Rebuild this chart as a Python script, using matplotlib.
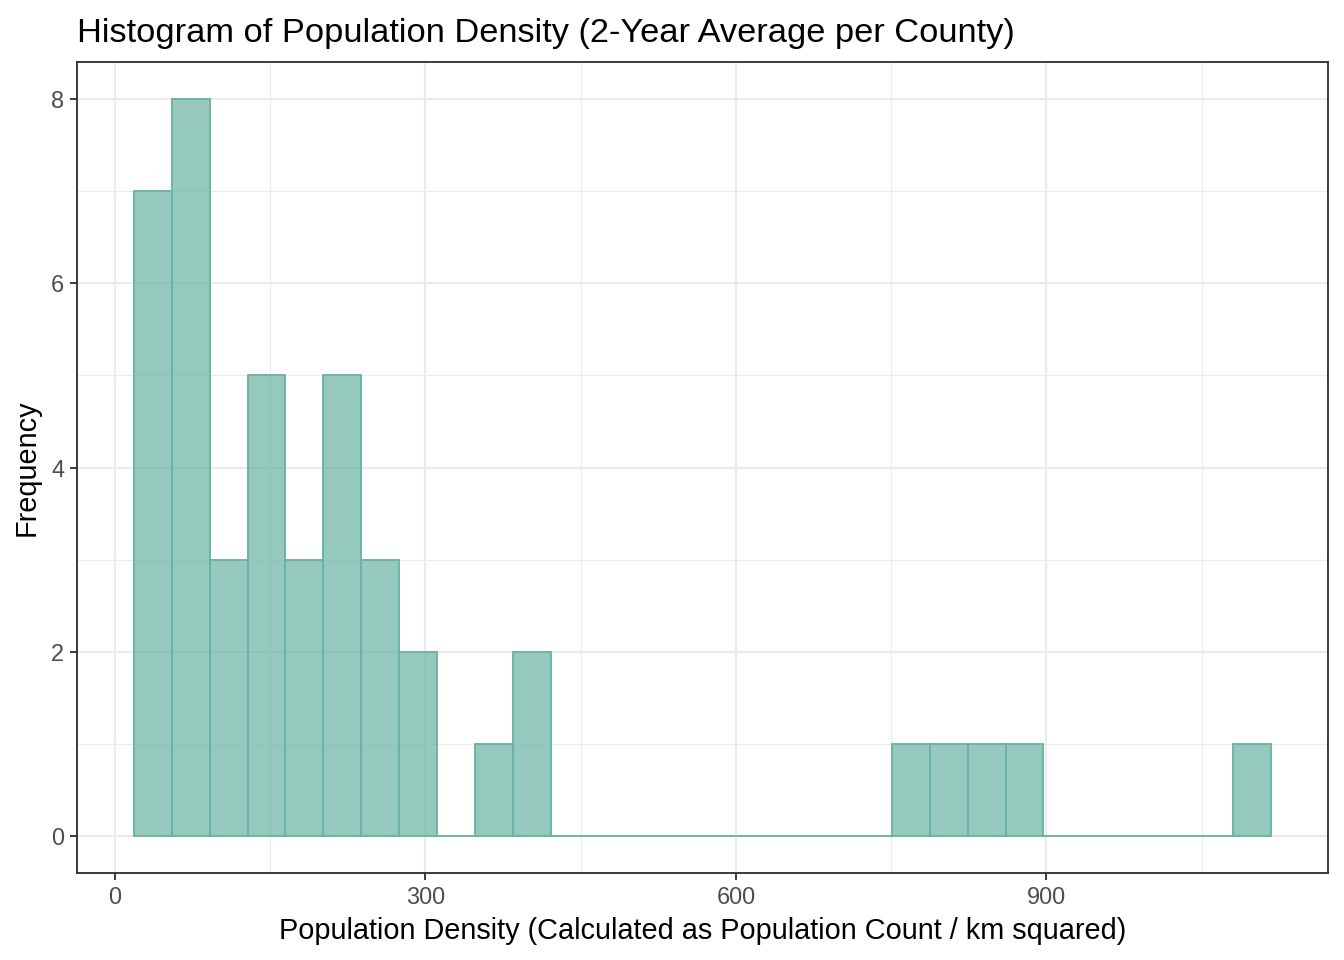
import matplotlib
matplotlib.use("Agg")
from matplotlib import pyplot as plt

# histogramm verisi (30 bin)
bin_start = 18.3
bin_width = 36.62
counts = [7, 8, 3, 5, 3, 5, 3, 2, 0, 1, 2, 0, 0, 0, 0,
          0, 0, 0, 0, 0, 1, 1, 1, 1, 0, 0, 0, 0, 0, 1]
x_ticks = [0, 300, 600, 900]
y_ticks = [0, 2, 4, 6, 8]

plt.rcParams['font.family'] = ['Liberation Sans', 'DejaVu Sans']

fig = plt.figure(figsize=(7, 5), dpi=192)
ax = fig.add_axes([0.0573, 0.0906, 0.9307, 0.8448])

lefts = [bin_start + i * bin_width for i in range(len(counts))]
ax.bar(lefts, counts, width=bin_width, align='edge',
       color='#69b3a2', alpha=0.7, edgecolor='none', zorder=3)
ax.bar(lefts, counts, width=bin_width, align='edge',
       fill=False, edgecolor='#69b3a2', linewidth=0.7, zorder=4)

ax.set_xlim(-36.6, 1172)
ax.set_ylim(-0.4, 8.4)
ax.set_xticks(x_ticks)
ax.set_yticks(y_ticks)
ax.set_xticks([150, 450, 750, 1050], minor=True)
ax.set_yticks([1, 3, 5, 7], minor=True)

ax.grid(True, which='major', color='#EBEBEB', linewidth=0.8, zorder=0)
ax.grid(True, which='minor', color='#EBEBEB', linewidth=0.4, zorder=0)
ax.set_axisbelow(True)

for s in ax.spines.values():
    s.set_color('#333333')
    s.set_linewidth(0.7)

ax.tick_params(which='major', length=2.75, width=0.7, color='#333333',
               labelcolor='#4D4D4D', labelsize=8.8, pad=2)
ax.tick_params(which='minor', length=0)

ax.set_xlabel("Population Density (Calculated as Population Count / km squared)",
              fontsize=10.85, labelpad=3)
ax.set_ylabel("Frequency", fontsize=10.85, labelpad=4)
ax.set_title("Histogram of Population Density (2-Year Average per County)",
             fontsize=12.9, loc='left', pad=7.5)

fig.savefig('out.png', dpi=192)
